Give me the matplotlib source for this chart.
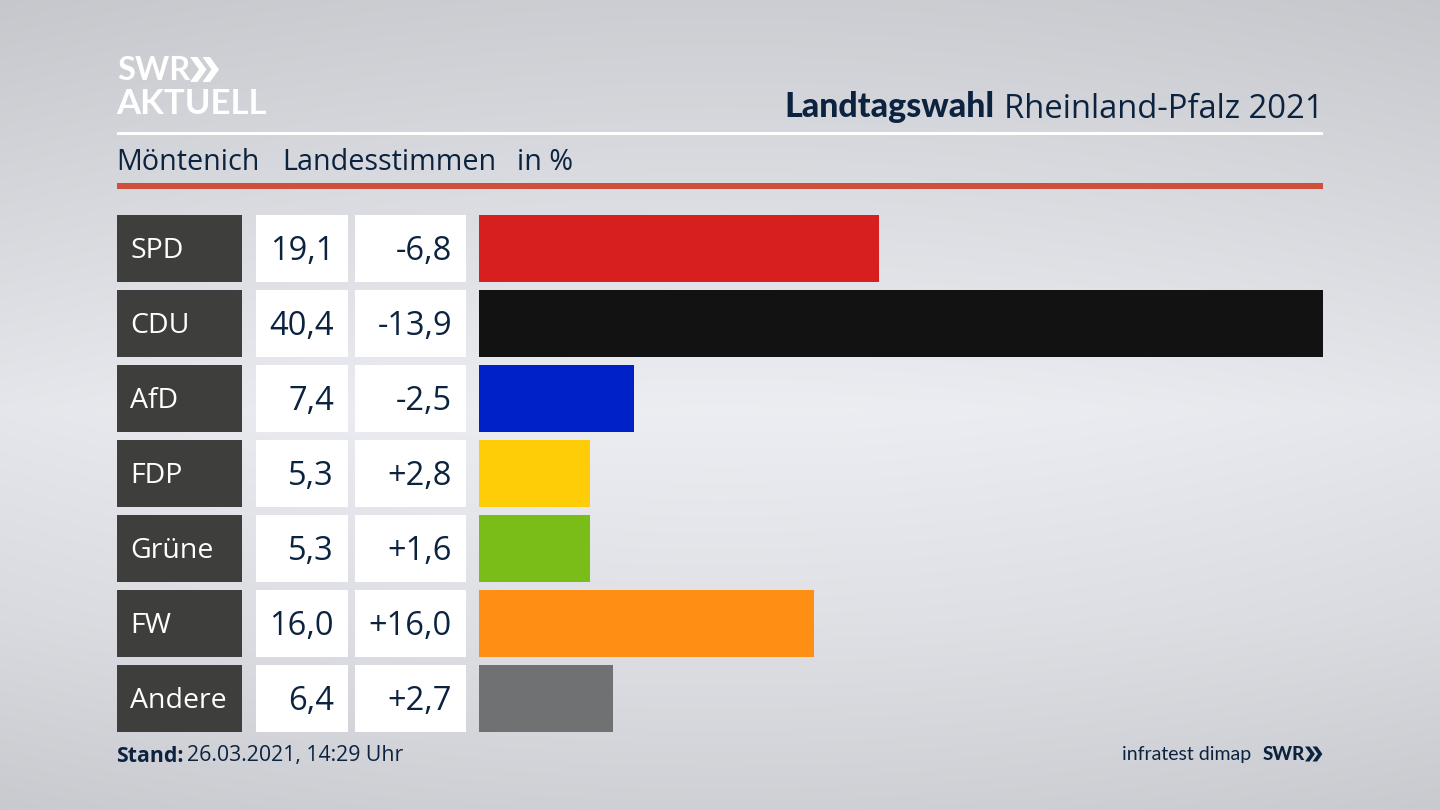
import numpy as np
import matplotlib
matplotlib.use('Agg')
import matplotlib.pyplot as plt
from matplotlib.patches import Rectangle, Polygon

parties = ['SPD', 'CDU', 'AfD', 'FDP', 'Grüne', 'FW', 'Andere']
shares = [19.1, 40.4, 7.4, 5.3, 5.3, 16.0, 6.4]
changes = ['-6,8', '-13,9', '-2,5', '+2,8', '+1,6', '+16,0', '+2,7']
colors = ['#d71f1f', '#121212', '#0021c8', '#ffcd07', '#7abd19', '#ff8e14', '#707173']

W, H = 1440, 810
NAVY = '#0c2340'
plt.rcParams['font.family'] = ['Open Sans', 'DejaVu Sans']
LATO = ['Lato', 'DejaVu Sans']

fig = plt.figure(figsize=(W/100, H/100), dpi=100)
bg = fig.add_axes([0, 0, 1, 1])
bg.set_xlim(0, W); bg.set_ylim(H, 0); bg.axis('off')

# soft background gradient, brightest around the middle
stops_y = [0, 130, 410, 620, 810]
stops_v = [0.80, 0.84, 0.925, 0.875, 0.81]
gv = np.interp(np.arange(H), stops_y, stops_v)[:, None]
xs = (np.arange(W) - W / 2) / (W / 2)
gv = gv * (1 - 0.03 * xs[None, :] ** 2)
grad = np.dstack([gv, gv + 0.006, gv + 0.025]).clip(0, 1)
bg.imshow(grad, extent=(0, W, H, 0), aspect='auto', zorder=0)
bg.set_xlim(0, W); bg.set_ylim(H, 0)

def T(x, y, s, size, color=NAVY, ha='left', weight='normal', family=None):
    return bg.text(x, y, s, fontsize=size, color=color, ha=ha, va='center',
                   weight=weight, zorder=5, family=family)

def chevrons(x, y, h, color):
    w = h * 0.66
    t = h * 0.30
    for dx in (0, h * 0.50):
        pts = [(x+dx, y-h/2), (x+dx+t, y-h/2), (x+dx+w, y),
               (x+dx+t, y+h/2), (x+dx, y+h/2), (x+dx+w-t, y)]
        bg.add_patch(Polygon(pts, closed=True, fc=color, ec='none', zorder=5))

# logo
T(117, 71, 'SWR', 23.5, 'white', weight='bold', family=LATO)
chevrons(190, 69.5, 25, 'white')
T(116, 104, 'AKTUELL', 25, 'white', weight='bold', family=LATO)

# header
title = T(1323, 109.5, 'Rheinland-Pfalz 2021', 23.6, ha='right')
fig.canvas.draw()
bb = title.get_window_extent()
T(bb.x0 - 9, 107, 'Landtagswahl', 24.5, ha='right', weight='black', family=LATO)
bg.add_patch(Rectangle((117, 132), 1206, 3, fc='white', ec='none', zorder=4))
T(116, 162, 'Möntenich', 20.7)
T(282, 162, 'Landesstimmen', 20.7)
T(517, 162, 'in %', 20.7)
bg.add_patch(Rectangle((117, 183), 1206, 6, fc='#cf4e3c', ec='none', zorder=4))

# rows
row_h = 66.5
row_top = [215, 290, 365, 440, 515, 590, 665]
for top, p, s, c in zip(row_top, parties, shares, changes):
    mid = top + row_h/2
    bg.add_patch(Rectangle((117, top), 124.5, row_h, fc='#3e3e3d', ec='none', zorder=3))
    bg.add_patch(Rectangle((255.5, top), 92.5, row_h, fc='white', ec='none', zorder=3))
    bg.add_patch(Rectangle((354.5, top), 111, row_h, fc='white', ec='none', zorder=3))
    T(130.5, mid + 3, p, 20.5, 'white')
    T(334, mid + 3, f'{s:.1f}'.replace('.', ','), 23.5, ha='right')
    T(452, mid + 3, c, 23.5, ha='right')

# bars, drawn through a data axis
ax = fig.add_axes([479/W, 1 - 732/H, (1323-479)/W, (732-215)/H])
ax.patch.set_alpha(0)
ax.set_xlim(0, 40.3)
ax.set_ylim(732, 215)
ax.axis('off')
ax.barh([t + row_h/2 for t in row_top], shares, height=row_h, color=colors, linewidth=0)

# footer
st = T(116.5, 756, 'Stand:', 15.3, weight='bold')
fig.canvas.draw()
T(st.get_window_extent().x1 + 3, 756, '26.03.2021, 14:29 Uhr', 15.3)
T(1251, 754.5, 'infratest dimap', 14, ha='right', family=LATO)
T(1263, 754.5, 'SWR', 13.5, weight='black', family=LATO)
chevrons(1305, 754, 15, NAVY)

fig.savefig('out.png', dpi=100)
